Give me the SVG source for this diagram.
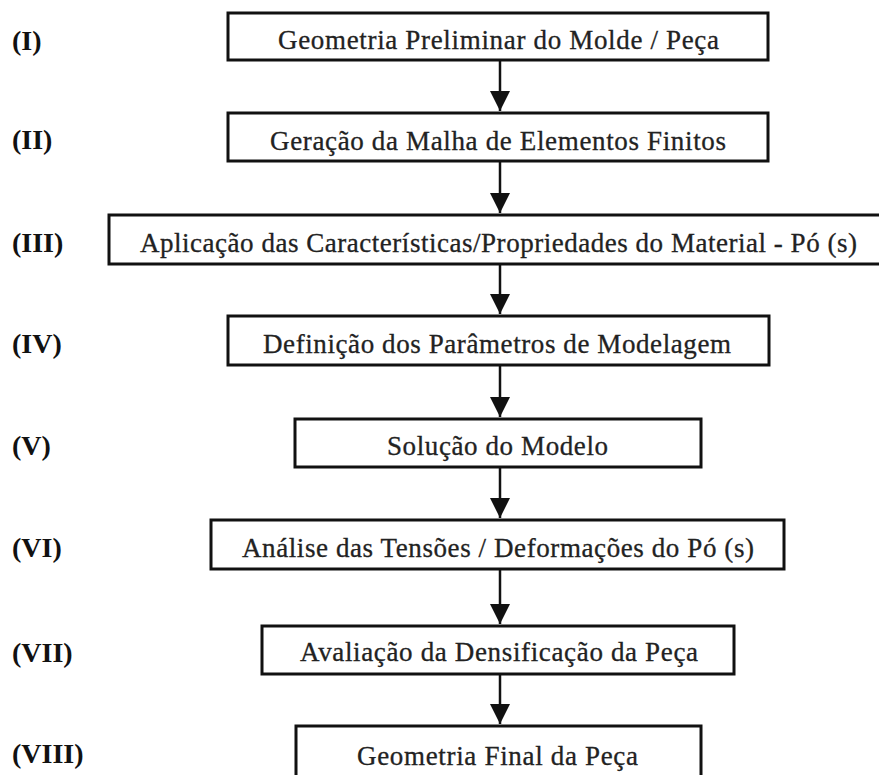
<svg xmlns="http://www.w3.org/2000/svg" width="879" height="775" viewBox="0 0 879 775">
  <style>
    .box { fill: #ffffff; stroke: #111111; stroke-width: 3; }
    .txt { font-family: "Liberation Serif", "Times New Roman", serif; font-size: 27px; fill: #222222; stroke: #222222; stroke-width: 0.3; text-anchor: start; }
    .lbl { font-family: "Liberation Serif", "Times New Roman", serif; font-size: 28px; font-weight: bold; fill: #111111; }
    .conn { stroke: #111111; stroke-width: 2.5; fill: none; }
  </style>
  <defs>
    <marker id="arrow" markerUnits="userSpaceOnUse" markerWidth="21" markerHeight="22" refX="20" refY="11" orient="auto" viewBox="0 0 21 22">
      <path d="M0,1 L20,11 L0,21 Z" fill="#111111"/>
    </marker>
  </defs>
  <rect width="879" height="775" fill="#ffffff"/>

  <g id="connectors">
    <line class="conn" x1="500" y1="61" x2="500" y2="111" marker-end="url(#arrow)"/>
    <line class="conn" x1="500" y1="162" x2="500" y2="213" marker-end="url(#arrow)"/>
    <line class="conn" x1="500" y1="265" x2="500" y2="314" marker-end="url(#arrow)"/>
    <line class="conn" x1="500" y1="366" x2="500" y2="417" marker-end="url(#arrow)"/>
    <line class="conn" x1="500" y1="468" x2="500" y2="518" marker-end="url(#arrow)"/>
    <line class="conn" x1="500" y1="570" x2="500" y2="624" marker-end="url(#arrow)"/>
    <line class="conn" x1="500" y1="675" x2="500" y2="724" marker-end="url(#arrow)"/>
  </g>

  <g id="node-1">
    <text class="lbl" x="12" y="50">(I)</text>
    <rect class="box" x="228" y="13" width="540" height="47"/>
    <text class="txt" x="278" y="49" textLength="441" lengthAdjust="spacing">Geometria Preliminar do Molde / Peça</text>
  </g>
  <g id="node-2">
    <text class="lbl" x="12" y="149">(II)</text>
    <rect class="box" x="228" y="113" width="540" height="48"/>
    <text class="txt" x="270" y="150" textLength="456" lengthAdjust="spacing">Geração da Malha de Elementos Finitos</text>
  </g>
  <g id="node-3">
    <text class="lbl" x="12" y="252">(III)</text>
    <rect class="box" x="109" y="215" width="790" height="49"/>
    <text class="txt" x="140" y="252" textLength="717" lengthAdjust="spacing">Aplicação das Características/Propriedades do Material - Pó (s)</text>
  </g>
  <g id="node-4">
    <text class="lbl" x="12" y="353">(IV)</text>
    <rect class="box" x="228" y="316" width="541" height="49"/>
    <text class="txt" x="263" y="353" textLength="468" lengthAdjust="spacing">Definição dos Parâmetros de Modelagem</text>
  </g>
  <g id="node-5">
    <text class="lbl" x="12" y="455">(V)</text>
    <rect class="box" x="295" y="419" width="406" height="48"/>
    <text class="txt" x="387" y="455" textLength="221" lengthAdjust="spacing">Solução do Modelo</text>
  </g>
  <g id="node-6">
    <text class="lbl" x="12" y="557">(VI)</text>
    <rect class="box" x="211" y="520" width="573" height="49"/>
    <text class="txt" x="242" y="557" textLength="512" lengthAdjust="spacing">Análise das Tensões / Deformações do Pó (s)</text>
  </g>
  <g id="node-7">
    <text class="lbl" x="12" y="662">(VII)</text>
    <rect class="box" x="262" y="626" width="472" height="48"/>
    <text class="txt" x="300" y="661" textLength="398" lengthAdjust="spacing">Avaliação da Densificação da Peça</text>
  </g>
  <g id="node-8">
    <text class="lbl" x="12" y="763">(VIII)</text>
    <rect class="box" x="296" y="726" width="405" height="55"/>
    <text class="txt" x="357" y="765" textLength="281" lengthAdjust="spacing">Geometria Final da Peça</text>
  </g>
</svg>
